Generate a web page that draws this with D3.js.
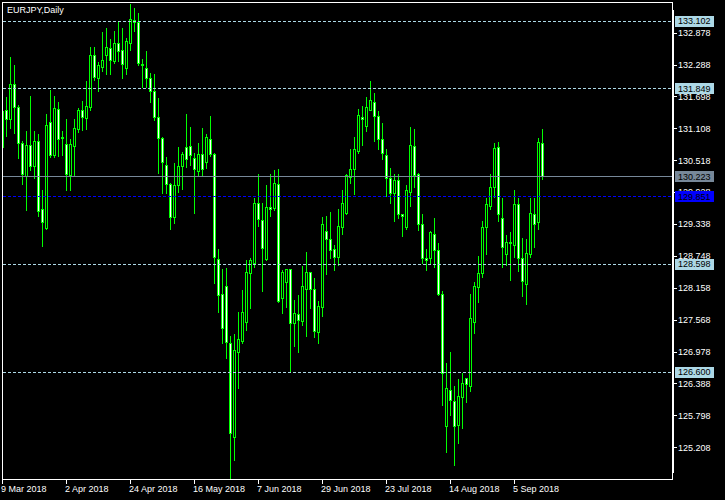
<!DOCTYPE html>
<html><head><meta charset="utf-8">
<script src="https://cdn.jsdelivr.net/npm/d3@7/dist/d3.min.js"></script>
<style>body{margin:0;background:#000;}svg{display:block;}</style>
</head><body>
<svg id="c" width="725" height="500"></svg>
<script>
const symbolTitle = "EURJPY,Daily";
const dates = [
"2018-03-09","2018-03-12","2018-03-13","2018-03-14","2018-03-15","2018-03-16","2018-03-19","2018-03-20","2018-03-21","2018-03-22","2018-03-23","2018-03-26","2018-03-27","2018-03-28","2018-03-29","2018-03-30",
"2018-04-02","2018-04-03","2018-04-04","2018-04-05","2018-04-06","2018-04-09","2018-04-10","2018-04-11","2018-04-12","2018-04-13","2018-04-16","2018-04-17","2018-04-18","2018-04-19","2018-04-20","2018-04-23","2018-04-24","2018-04-25","2018-04-26","2018-04-27","2018-04-30",
"2018-05-01","2018-05-02","2018-05-03","2018-05-04","2018-05-07","2018-05-08","2018-05-09","2018-05-10","2018-05-11","2018-05-14","2018-05-15","2018-05-16","2018-05-17","2018-05-18","2018-05-21","2018-05-22","2018-05-23","2018-05-24","2018-05-25","2018-05-28","2018-05-29","2018-05-30","2018-05-31",
"2018-06-01","2018-06-04","2018-06-05","2018-06-06","2018-06-07","2018-06-08","2018-06-11","2018-06-12","2018-06-13","2018-06-14","2018-06-15","2018-06-18","2018-06-19","2018-06-20","2018-06-21","2018-06-22","2018-06-25","2018-06-26","2018-06-27","2018-06-28","2018-06-29",
"2018-07-02","2018-07-03","2018-07-04","2018-07-05","2018-07-06","2018-07-09","2018-07-10","2018-07-11","2018-07-12","2018-07-13","2018-07-16","2018-07-17","2018-07-18","2018-07-19","2018-07-20","2018-07-23","2018-07-24","2018-07-25","2018-07-26","2018-07-27","2018-07-30","2018-07-31",
"2018-08-01","2018-08-02","2018-08-03","2018-08-06","2018-08-07","2018-08-08","2018-08-09","2018-08-10","2018-08-13","2018-08-14","2018-08-15","2018-08-16","2018-08-17","2018-08-20","2018-08-21","2018-08-22","2018-08-23","2018-08-24","2018-08-27","2018-08-28","2018-08-29","2018-08-30","2018-08-31",
"2018-09-03","2018-09-04","2018-09-05","2018-09-06","2018-09-07","2018-09-10","2018-09-11","2018-09-12","2018-09-13","2018-09-14"];
const opens = [
130.763,131.448,131.281,131.929,131.503,130.837,130.227,130.800,130.412,130.874,
129.616,129.265,131.226,130.615,131.466,130.948,130.819,130.245,130.782,131.096,
131.448,131.300,131.503,132.465,132.040,132.243,132.465,132.595,132.354,132.687,
132.558,132.225,132.687,133.113,133.076,132.299,132.225,132.040,131.799,131.318,
130.930,130.430,130.079,129.468,130.060,130.412,130.763,130.782,130.560,130.319,
130.634,130.486,130.911,130.634,128.691,128.044,128.192,127.137,125.398,126.971,
127.174,127.526,128.432,128.617,129.727,129.413,128.691,129.653,129.635,130.079,
127.970,128.266,128.506,127.507,127.674,127.544,128.136,128.451,128.136,127.341,
127.803,129.209,129.061,128.876,128.728,129.283,129.542,130.208,130.356,130.689,
131.318,131.152,131.448,131.596,131.337,130.911,130.615,130.190,129.912,130.153,
129.524,129.283,129.931,130.782,130.264,129.339,128.710,128.710,129.154,128.858,
128.044,125.602,126.268,126.064,125.620,126.138,126.490,126.342,127.526,128.173,
128.432,129.283,129.672,130.023,130.763,129.450,128.784,129.006,128.950,129.709,
128.710,128.229,128.784,129.524,129.376,130.837];
const highs = [
131.466,131.707,132.447,132.299,131.559,130.893,131.078,131.725,131.078,131.022,
129.986,131.392,131.836,131.725,131.614,131.078,131.300,130.930,131.300,131.503,
131.633,132.003,132.632,132.632,132.354,132.909,132.983,132.780,132.928,133.094,
132.983,132.798,133.428,133.353,133.261,132.410,132.558,132.151,132.132,131.688,
130.967,130.597,130.116,130.486,130.782,130.689,131.392,131.152,130.671,130.856,
131.133,131.022,131.355,130.671,128.895,128.525,128.543,127.285,127.322,127.729,
128.136,128.691,128.728,129.838,130.282,129.746,130.079,130.282,130.356,130.375,
128.506,128.525,128.525,127.951,128.044,128.580,128.839,128.469,128.358,127.933,
129.487,129.505,129.579,128.969,129.635,129.986,130.282,130.745,130.967,131.485,
131.540,131.707,132.003,131.781,131.448,131.226,130.745,130.393,130.282,130.282,
129.542,130.079,131.152,131.115,130.301,129.542,128.895,129.228,129.468,129.006,
128.118,126.786,126.989,126.360,126.490,126.601,126.508,128.062,128.284,128.765,
129.413,129.838,130.282,130.856,130.874,129.838,129.154,129.209,129.986,129.838,
129.098,129.080,129.838,129.838,130.948,131.115];
const lows = [
130.726,130.967,131.115,131.022,130.560,130.079,129.598,130.338,130.190,129.487,
128.932,129.246,130.578,130.578,130.597,130.615,129.968,129.968,130.227,131.041,
131.078,131.096,131.448,132.003,131.799,132.169,132.114,132.114,132.317,132.354,
132.040,132.114,132.558,132.909,132.280,131.873,131.873,131.596,131.263,130.282,
129.912,129.912,129.246,129.357,129.931,129.986,130.393,130.430,129.542,130.227,
130.227,130.375,130.597,128.247,127.711,127.137,126.860,124.600,124.973,126.305,
127.137,127.378,127.785,128.543,129.302,128.099,128.673,129.487,129.598,127.896,
127.692,127.803,126.619,127.082,126.971,127.470,127.267,127.785,127.248,127.137,
127.637,128.414,128.710,128.488,128.580,129.154,129.524,130.097,129.894,130.652,
130.800,131.059,131.448,130.874,130.726,130.541,129.857,129.727,129.394,129.450,
129.117,129.246,129.672,130.023,129.228,128.617,128.488,128.617,128.543,128.025,
125.990,125.121,125.805,124.880,125.287,125.565,126.046,126.249,127.322,127.896,
128.358,128.784,129.616,129.838,129.394,128.543,128.580,128.303,128.728,128.469,
128.007,127.859,128.728,128.913,129.246,130.171];
const closes = [
131.429,131.281,131.929,131.503,130.837,130.264,130.800,130.412,130.874,129.579,
129.376,131.170,130.615,131.485,130.911,130.930,130.264,130.819,131.115,131.448,
131.318,131.522,132.465,132.058,132.280,132.373,132.613,132.373,132.687,132.539,
132.299,132.724,133.132,133.076,132.317,132.280,132.040,131.799,131.318,130.930,
130.486,130.079,129.468,130.060,130.412,130.634,130.541,130.615,130.356,130.634,
130.356,130.948,130.634,128.728,128.025,127.415,127.156,125.472,127.008,127.211,
127.711,128.451,128.673,129.727,129.431,128.895,129.653,129.616,130.097,127.914,
128.451,128.506,127.507,127.692,127.563,128.192,128.451,128.136,127.359,127.822,
129.339,129.061,128.858,128.728,129.302,129.727,130.245,130.356,130.726,131.355,
131.281,131.503,131.633,131.337,130.911,130.652,130.190,129.912,130.153,129.524,
129.487,129.968,130.800,130.245,129.339,128.710,128.673,129.191,128.858,128.044,
126.582,126.305,126.083,125.602,126.157,126.397,126.379,127.600,128.192,128.432,
129.283,129.709,130.023,130.745,129.524,128.913,129.006,128.987,129.709,128.710,
128.284,128.802,129.542,129.339,130.856,130.223];
const xTickDates = ["2018-03-09","2018-04-02","2018-04-24","2018-05-16","2018-06-07","2018-06-29","2018-07-23","2018-08-14","2018-09-05"];
const xTickLabels = ["9 Mar 2018","2 Apr 2018","24 Apr 2018","16 May 2018","7 Jun 2018","29 Jun 2018","23 Jul 2018","14 Aug 2018","5 Sep 2018"];
const yTickValues = [132.878,132.288,131.698,131.108,130.518,129.928,129.338,128.748,128.158,127.568,126.978,126.388,125.798,125.208];
const dashedLevels = [133.102,131.849,128.598,126.600];
const bidLevel = 130.223;
const blueLevel = 129.851;
const priceDomain = [124.621, 133.446];

const W = 725, H = 500;
const L = 2.5, T = 2.5, R = 672.5, B = 479.5;
const svg = d3.select("#c");
svg.append("rect").attr("width", W).attr("height", H).attr("fill", "#000");

const x = d3.scaleBand().domain(dates).range([0.5, 0.5 + 4 * dates.length]);
const y = d3.scaleLinear().domain(priceDomain).range([479, 2]);
const py = v => Math.round(y(v)) + 0.5;
const FONT = "'Liberation Sans', Arial, sans-serif";

svg.append("defs").append("clipPath").attr("id", "clip")
  .append("rect").attr("x", 3).attr("y", 3).attr("width", R - 3).attr("height", B - 3);

const bars = dates.map((d, i) => ({d, o: opens[i], h: highs[i], l: lows[i], c: closes[i]}));
const g = svg.append("g").attr("clip-path", "url(#clip)").attr("shape-rendering", "crispEdges");
const cx = d => x(d) + x.bandwidth() / 2;

g.selectAll("line.wick").data(bars).join("line").attr("class", "wick")
  .attr("x1", b => cx(b.d)).attr("x2", b => cx(b.d))
  .attr("y1", b => py(b.h)).attr("y2", b => py(b.l) + 0.5)
  .attr("stroke", "#00ff00").attr("stroke-width", 1);

g.selectAll("path.body").data(bars).join("path").attr("class", "body")
  .attr("d", b => {
    const yt = py(Math.max(b.o, b.c)), yb = py(Math.min(b.o, b.c));
    const c = cx(b.d);
    return `M${c - 1},${yt}H${c + 1}V${yb}H${c - 1}Z`;
  })
  .attr("fill", b => b.c < b.o ? "#ffffff" : "#000000")
  .attr("stroke", "#00ff00").attr("stroke-width", 1);

// horizontal level lines
const lg = svg.append("g").attr("shape-rendering", "crispEdges");
lg.selectAll("line.lvl").data(dashedLevels).join("line")
  .attr("x1", 3).attr("x2", R - 0.5).attr("y1", py).attr("y2", py)
  .attr("stroke", "#add8e6").attr("stroke-dasharray", "3,2");
lg.append("line").attr("x1", 3).attr("x2", R - 0.5).attr("y1", py(bidLevel)).attr("y2", py(bidLevel))
  .attr("stroke", "#778899");
lg.append("line").attr("x1", 3).attr("x2", R - 0.5).attr("y1", py(blueLevel)).attr("y2", py(blueLevel))
  .attr("stroke", "#0000ff").attr("stroke-dasharray", "3,2");

// frame
const fg = svg.append("g").attr("shape-rendering", "crispEdges").attr("stroke", "#fff").attr("fill", "none");
fg.append("rect").attr("x", L).attr("y", T).attr("width", R - L).attr("height", B - T);
svg.append("rect").attr("x", 672).attr("y", 10).attr("width", 2).attr("height", 463).attr("fill", "#fff");

// title
svg.append("text").attr("x", 7).attr("y", 13).attr("fill", "#fff")
  .attr("font-family", FONT).attr("font-size", "9px").text(symbolTitle);

// price axis
const ya = svg.append("g");
ya.selectAll("line").data(yTickValues).join("line").attr("shape-rendering", "crispEdges")
  .attr("x1", 674).attr("x2", 677).attr("y1", py).attr("y2", py).attr("stroke", "#fff");
ya.selectAll("text").data(yTickValues).join("text")
  .attr("x", 678).attr("y", v => y(v) + 3.3).attr("fill", "#fff")
  .attr("font-family", FONT).attr("font-size", "9px").text(v => v.toFixed(3));

// highlighted price labels
const marks = dashedLevels.map(v => ({v, bg: "#add8e6"}))
  .concat([{v: bidLevel, bg: "#778899"}, {v: blueLevel, bg: "#0000ff"}]);
const mg = svg.append("g");
mg.selectAll("rect").data(marks).join("rect").attr("shape-rendering", "crispEdges")
  .attr("x", 675).attr("y", m => Math.round(y(m.v)) - 5).attr("width", 39).attr("height", 11)
  .attr("fill", m => m.bg);
mg.selectAll("text").data(marks).join("text")
  .attr("x", 678).attr("y", m => y(m.v) + 3.3).attr("fill", "#000")
  .attr("font-family", FONT).attr("font-size", "9px").text(m => m.v.toFixed(3));

// time axis
const xa = svg.append("g");
xa.selectAll("line").data(xTickDates).join("line").attr("shape-rendering", "crispEdges")
  .attr("x1", d => cx(d)).attr("x2", d => cx(d)).attr("y1", B).attr("y2", B + 4).attr("stroke", "#fff");
xa.selectAll("text").data(xTickDates).join("text")
  .attr("x", d => cx(d) - 1.5).attr("y", 492).attr("fill", "#fff")
  .attr("font-family", FONT).attr("font-size", "9px").text((d, i) => xTickLabels[i]);
</script>
</body></html>
